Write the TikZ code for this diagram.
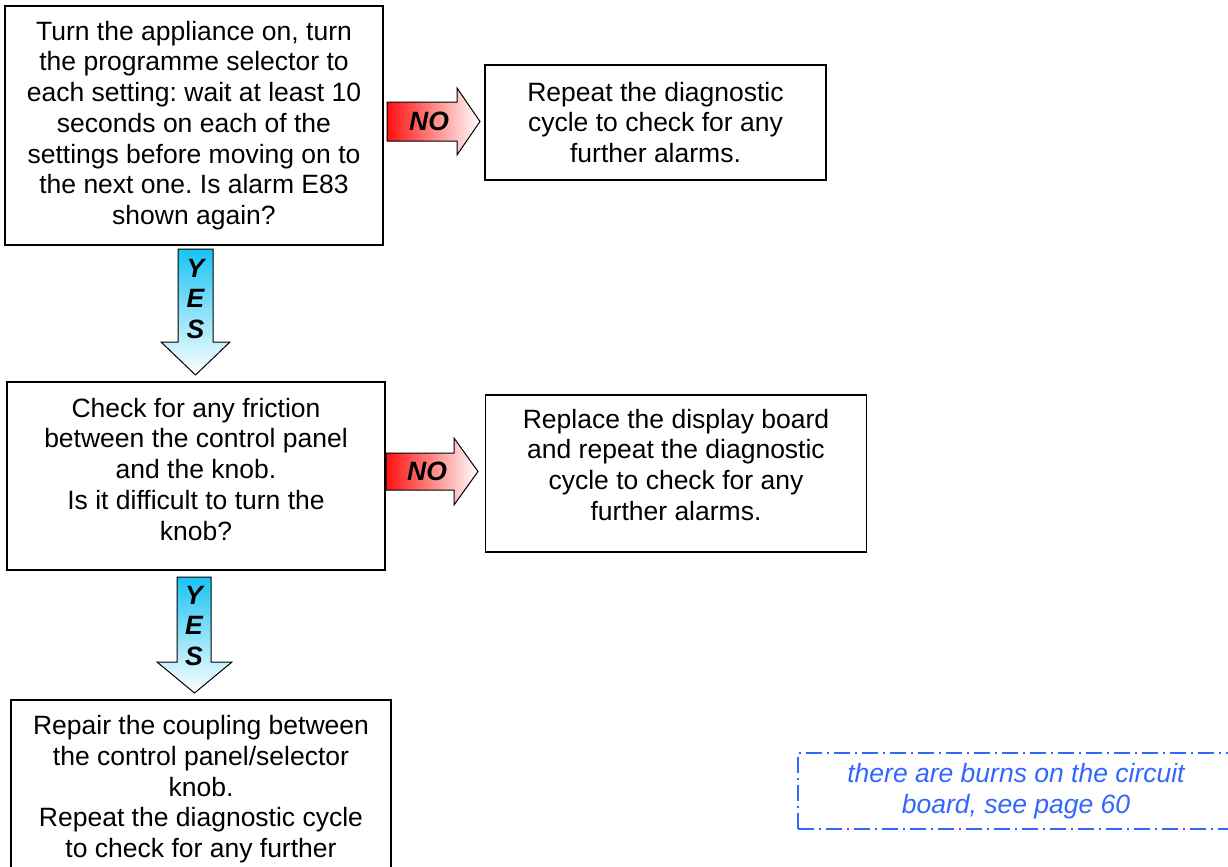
\documentclass[tikz,border=0pt]{standalone}
\usepackage{fontspec}
\setmainfont{Liberation Sans}
\usepackage{xcolor}
\usetikzlibrary{positioning,calc}
\definecolor{nored}{HTML}{FF1010}
\definecolor{yescyan}{HTML}{19C3F3}
\definecolor{noteblue}{HTML}{3366FF}
\frenchspacing

\begin{document}
\begin{tikzpicture}[
  x=0.5pt,y=-0.5pt,
  txt/.style={font=\fontsize{13.25pt}{15.35pt}\selectfont,align=center},
  box/.style={txt,draw=black,line width=0.75pt,inner sep=0pt},
  noarr/.style={draw=black,line width=0.5pt,left color=nored,right color=white},
  yesarr/.style={draw=black,line width=0.5pt,top color=yescyan,bottom color=white},
  lbl/.style={font=\fontsize{13.25pt}{15.35pt}\selectfont\bfseries\itshape,align=center,inner sep=0pt},
  note/.style={txt,font=\fontsize{13.25pt}{15.35pt}\selectfont\itshape,text=noteblue,draw=noteblue,line width=0.75pt,
    dash pattern=on 8pt off 2.5pt on 1pt off 2.5pt,inner sep=0pt}
]
\useasboundingbox (0,0) rectangle (1228,867);

% boxes
\node[box,minimum width=189pt,minimum height=119.5pt] (q1) at (194,125.5)
  {Turn the appliance on, turn\\the programme selector to\\each setting: wait at least 10\\seconds on each of the\\settings before moving on to\\the next one. Is alarm E83\\shown again?};
\node[box,minimum width=170.5pt,minimum height=57.5pt] (r1) at (655.5,122.5)
  {Repeat the diagnostic\\cycle to check for any\\further alarms.};
\node[box,minimum width=189pt,minimum height=94pt,text depth=7pt] (q2) at (196,476)
  {Check for any friction\\between the control panel\\and the knob.\\Is it difficult to turn the\\knob?};
\node[box,minimum width=190.5pt,minimum height=78.5pt,text depth=9pt] (r2) at (676,473.5)
  {Replace the display board\\and repeat the diagnostic\\cycle to check for any\\further alarms.};
\node[box,minimum width=190pt,minimum height=110pt,anchor=north] (r3) at (201,699) {};
\node[txt,anchor=north,inner sep=0pt] (r3t) at ($(r3.north)+(0,16)$)
  {Repair the coupling between\\the control panel/selector\\knob.\\Repeat the diagnostic cycle\\to check for any further};

% note
\node[note,minimum width=218pt,minimum height=38pt] (n1) at (1016,791)
  {there are burns on the circuit\\board, see page 60};

% NO arrows
\path[noarr] (387,102) -- (457,102) -- (457,88) -- (480,121.5) -- (457,155) -- (457,141) -- (387,141) -- cycle;
\node[lbl] (no1) at (429,121) {NO};
\path[noarr] (386,453) -- (454,453) -- (454,438) -- (478,471.5) -- (454,505) -- (454,490) -- (386,490) -- cycle;
\node[lbl] (no2) at (427,471) {NO};

% YES arrows
\path[yesarr] (178,249) -- (213,249) -- (213,342) -- (230,342) -- (195.5,375) -- (161,342) -- (178,342) -- cycle;
\node[lbl] (yes1) at (195.5,299) {Y\\E\\S};
\path[yesarr] (177,577) -- (211,577) -- (211,662) -- (232,662) -- (194.5,693) -- (157,662) -- (177,662) -- cycle;
\node[lbl] (yes2) at (194,626) {Y\\E\\S};
\end{tikzpicture}
\end{document}
